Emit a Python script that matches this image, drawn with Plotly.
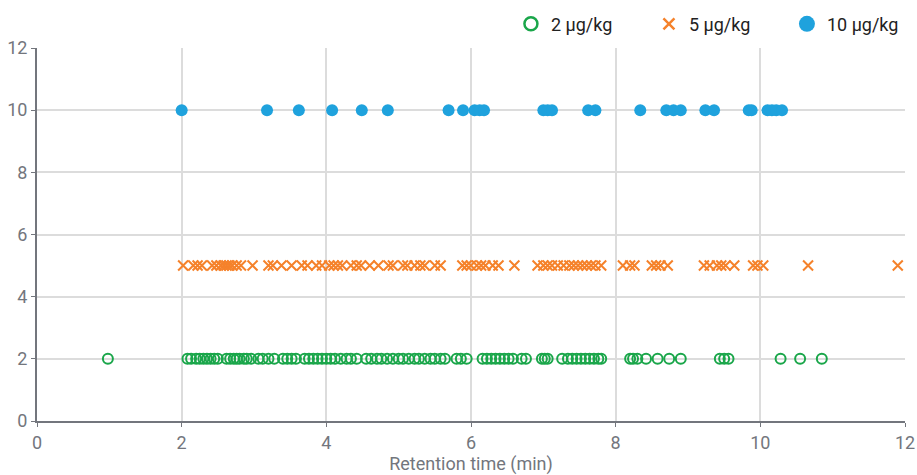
import plotly.graph_objects as go

# Retention times (min) for each spiking level
rt_2 = [0.98,
        2.08, 2.13, 2.2, 2.25, 2.3, 2.35, 2.4, 2.45, 2.5,
        2.62, 2.67, 2.72, 2.76, 2.8, 2.86, 2.9, 2.96,
        3.06, 3.12, 3.2, 3.28,
        3.4, 3.46, 3.52, 3.58,
        3.7, 3.76, 3.82, 3.88, 3.94, 4.0, 4.06, 4.12,
        4.2, 4.28, 4.34, 4.42,
        4.55, 4.62, 4.7, 4.76, 4.84,
        4.92, 5.0, 5.06, 5.14,
        5.22, 5.28, 5.36, 5.44, 5.5, 5.58, 5.64,
        5.8, 5.86, 5.94,
        6.16, 6.22, 6.28, 6.34, 6.4, 6.46, 6.52, 6.58,
        6.7, 6.76,
        6.98, 7.02, 7.06,
        7.26, 7.34, 7.4, 7.46, 7.52, 7.58, 7.64, 7.7, 7.76, 7.8,
        8.2, 8.24, 8.3, 8.42, 8.58, 8.74, 8.9,
        9.44, 9.5, 9.56,
        10.28, 10.55, 10.85]
rt_5 = [2.02, 2.16, 2.22, 2.28, 2.42, 2.48, 2.54, 2.58, 2.62, 2.66, 2.7, 2.76, 2.82,
        2.98, 3.2, 3.26, 3.38, 3.52, 3.66, 3.74, 3.86, 3.94, 4.04, 4.1, 4.16, 4.22,
        4.34, 4.42, 4.48, 4.6, 4.72, 4.86, 4.92, 5.06, 5.12, 5.22, 5.3, 5.36, 5.5,
        5.58, 5.88, 5.94, 6.0, 6.08, 6.14, 6.2, 6.3, 6.38, 6.6, 6.92, 7.0, 7.06,
        7.12, 7.2, 7.28, 7.36, 7.42, 7.48, 7.54, 7.6, 7.66, 7.72, 7.8, 8.1, 8.2,
        8.26, 8.5, 8.56, 8.62, 8.72, 9.22, 9.3, 9.4, 9.46, 9.52, 9.64, 9.9, 9.96,
        10.04, 10.66, 11.9]
rt_10 = [2.0, 3.18, 3.62, 4.08, 4.49, 4.85, 5.69, 5.89, 6.05, 6.12, 6.18,
         7.0, 7.06, 7.12, 7.62, 7.72, 8.34, 8.7, 8.8, 8.9, 9.24, 9.36,
         9.84, 9.88, 10.1, 10.16, 10.22, 10.3]

levels = [2, 5, 10]
names = ["2 µg/kg", "5 µg/kg", "10 µg/kg"]
colors = ["#1aa64a", "#f5822b", "#1fa2dd"]

fig = go.Figure()
fig.add_trace(go.Scatter(
    x=rt_2, y=[levels[0]] * len(rt_2), mode="markers", name=names[0], showlegend=False,
    marker=dict(symbol="circle-open", size=10, color=colors[0], line=dict(width=2, color=colors[0]))))
fig.add_trace(go.Scatter(
    x=rt_5, y=[levels[1]] * len(rt_5), mode="markers", name=names[1], showlegend=False,
    marker=dict(symbol="x-thin-open", size=10, color=colors[1], line=dict(width=2, color=colors[1]))))
fig.add_trace(go.Scatter(
    x=rt_10, y=[levels[2]] * len(rt_10), mode="markers", name=names[2], showlegend=False,
    marker=dict(symbol="circle", size=12, color=colors[2])))

# legend entries (larger symbols, as in the reference legend)
fig.add_trace(go.Scatter(x=[None], y=[None], mode="markers", name=names[0],
    marker=dict(symbol="circle-open", size=13, color=colors[0], line=dict(width=2.5, color=colors[0]))))
fig.add_trace(go.Scatter(x=[None], y=[None], mode="markers", name=names[1],
    marker=dict(symbol="x-thin-open", size=11, color=colors[1], line=dict(width=2.5, color=colors[1]))))
fig.add_trace(go.Scatter(x=[None], y=[None], mode="markers", name=names[2],
    marker=dict(symbol="circle", size=16, color=colors[2])))

fig.update_layout(
    width=917, height=475,
    margin=dict(l=37, r=12, t=48, b=54, autoexpand=False),
    paper_bgcolor="white", plot_bgcolor="white",
    font=dict(family="Roboto", size=16, color="#6b6e75"),
    showlegend=True,
    legend=dict(orientation="h", x=0.546, xanchor="left", y=1.064, yanchor="middle",
                font=dict(size=18, color="#222222"),
                entrywidth=93, entrywidthmode="pixels",
                bgcolor="rgba(0,0,0,0)", traceorder="normal"),
    xaxis=dict(range=[0, 12], dtick=2, showgrid=True, gridcolor="#dcdcdc", gridwidth=2,
               zeroline=False, showline=True, linecolor="#73767d", linewidth=2,
               ticks="outside", ticklen=4, tickcolor="#73767d", automargin=False,
               tickfont=dict(size=18, color="#73767d"),
               title=dict(text="Retention time (min)", font=dict(size=18, color="#73767d"), standoff=6)),
    yaxis=dict(range=[0, 12], dtick=2, showgrid=True, gridcolor="#dcdcdc", gridwidth=2,
               zeroline=False, showline=True, linecolor="#73767d", linewidth=2,
               ticks="outside", ticklen=4, tickcolor="#73767d", automargin=False,
               tickfont=dict(size=18, color="#73767d")),
)

fig.write_html("out.html")
